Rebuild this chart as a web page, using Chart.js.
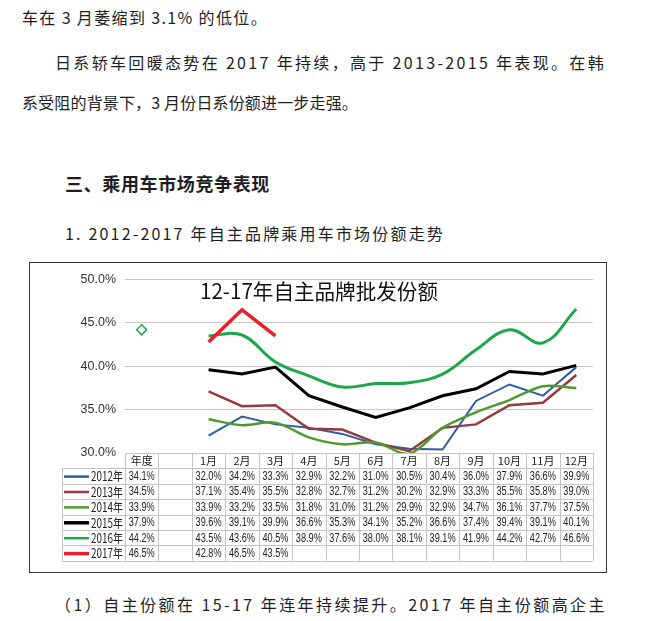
<!DOCTYPE html>
<html>
<head>
<meta charset="utf-8">
<script src="https://cdn.jsdelivr.net/npm/chart.js@4.4.0/dist/chart.umd.min.js"></script>
<style>
body { margin: 0; width: 648px; height: 621px; background: #fff; position: relative; overflow: hidden;
       font-family: "Noto Sans CJK SC", sans-serif; color: #1e1e1e; }
.ln { position: absolute; font-size: 16px; line-height: 20px; white-space: nowrap; }
.hd { font-size: 18px; font-weight: bold; line-height: 22px; }
#box { position: absolute; left: 29px; top: 262px; width: 576px; height: 309px; border: 1px solid #333; }
#wrap { position: absolute; left: 0; top: 0; width: 576px; height: 309px; }
</style>
</head>
<body>
<div class="ln" data-w="246" style="left:22px;top:7px">车在 3 月萎缩到 3.1% 的低位。</div>
<div class="ln" data-w="551" style="left:55px;top:52px">日系轿车回暖态势在 2017 年持续，高于 2013-2015 年表现。在韩</div>
<div class="ln" data-w="336" style="left:22px;top:92px">系受阻的背景下，3 月份日系份额进一步走强。</div>
<div class="ln hd" data-w="205" style="left:65px;top:172px">三、乘用车市场竞争表现</div>
<div class="ln" data-w="380" style="left:65px;top:223px">1. 2012-2017 年自主品牌乘用车市场份额走势</div>
<div class="ln" data-w="552" style="left:55px;top:594px">（1）自主份额在 15-17 年连年持续提升。2017 年自主份额高企主</div>

<div id="box"><div id="wrap"><canvas id="myChart"></canvas></div></div>

<script>
// chart data
const title = '12-17年自主品牌批发份额';
const columns = ['年度', '', '1月', '2月', '3月', '4月', '5月', '6月', '7月', '8月', '9月', '10月', '11月', '12月'];
const years = ['2012年', '2013年', '2014年', '2015年', '2016年', '2017年'];
const annual = [34.1, 34.5, 33.9, 37.9, 44.2, 46.5];
const s2012 = [32.0, 34.2, 33.3, 32.9, 32.2, 31.0, 30.5, 30.4, 36.0, 37.9, 36.6, 39.9];
const s2013 = [37.1, 35.4, 35.5, 32.8, 32.7, 31.2, 30.2, 32.9, 33.3, 35.5, 35.8, 39.0];
const s2014 = [33.9, 33.2, 33.5, 31.8, 31.0, 31.2, 29.9, 32.9, 34.7, 36.1, 37.7, 37.5];
const s2015 = [39.6, 39.1, 39.9, 36.6, 35.3, 34.1, 35.2, 36.6, 37.4, 39.4, 39.1, 40.1];
const s2016 = [43.5, 43.6, 40.5, 38.9, 37.6, 38.0, 38.1, 39.1, 41.9, 44.2, 42.7, 46.6];
const s2017 = [42.8, 46.5, 43.5];
const yTicks = [30, 35, 40, 45, 50];

const monthly = [s2012, s2013, s2014, s2015, s2016, s2017];
const colors = ['#2f5ca6', '#953a40', '#4f9a30', '#000000', '#1ea64a', '#e8202a'];
const widths = [2, 2.5, 2.5, 3, 3, 3.5];
const tensions = [0, 0, 0.3, 0, 0.4, 0];

// fit text lines to their width
document.querySelectorAll('.ln').forEach(el => {
    const w = +el.dataset.w;
    const nat = el.getBoundingClientRect().width;
    const n = [...el.textContent].length;
    el.style.letterSpacing = ((w - nat) / n) + 'px';
});

const datasets = years.map((y, i) => ({
    label: y,
    data: [annual[i], null].concat(monthly[i]),
    borderColor: colors[i],
    backgroundColor: '#ffffff',
    borderWidth: widths[i],
    tension: tensions[i],
    pointStyle: 'rectRot',
    pointRadius: ctx => (i === 4 && ctx.dataIndex === 0) ? 5 : 0,
    pointBorderWidth: 1.5,
    order: 6 - i
}));

const numFont = '12.5px "Liberation Sans", Arial, sans-serif';
const cjkFont = '11px "Noto Sans CJK SC", sans-serif';

// title + data table under the plot
const tablePlugin = {
    id: 'tablePlugin',
    afterDraw(chart) {
        const ctx = chart.ctx;
        const xs = chart.scales.x;
        const area = chart.chartArea;
        const colW = (area.right - area.left) / columns.length;
        const rowH = 15.4;
        const top = area.bottom;
        const legL = 32;

        ctx.save();
        ctx.fillStyle = '#111';
        ctx.font = '21px "Noto Sans CJK SC", sans-serif';
        ctx.textAlign = 'center';
        ctx.textBaseline = 'middle';
        ctx.fillText(title, 289, 28, 238);

        // grid
        ctx.strokeStyle = '#c4c4c4';
        ctx.lineWidth = 1;
        ctx.beginPath();
        for (let r = 0; r <= 7; r++) {
            const y = Math.round(top + r * rowH) + 0.5;
            ctx.moveTo(r === 0 ? area.left : legL, y);
            ctx.lineTo(area.right, y);
        }
        for (let c = 0; c <= columns.length; c++) {
            const x = Math.round(area.left + c * colW) + 0.5;
            ctx.moveTo(x, top);
            ctx.lineTo(x, top + 7 * rowH);
        }
        ctx.moveTo(legL + 0.5, top + rowH);
        ctx.lineTo(legL + 0.5, top + 7 * rowH);
        ctx.stroke();

        ctx.fillStyle = '#222';
        ctx.font = cjkFont;
        columns.forEach((c, i) => ctx.fillText(c, xs.getPixelForValue(i), top + rowH / 2 + 0.5, colW - 8));

        years.forEach((y, r) => {
            const cy = top + (r + 1.5) * rowH + 0.5;
            ctx.strokeStyle = colors[r];
            ctx.lineWidth = (r === 3 || r === 5) ? 3.5 : 2.5;
            ctx.beginPath();
            ctx.moveTo(legL + 2, cy);
            ctx.lineTo(legL + 27, cy);
            ctx.stroke();
            ctx.textAlign = 'left';
            ctx.font = '12.5px "Noto Sans CJK SC", sans-serif';
            ctx.fillText(y, legL + 29, cy, 32);
            ctx.textAlign = 'center';
            ctx.font = numFont;
            ctx.fillText(annual[r].toFixed(1) + '%', xs.getPixelForValue(0), cy, 26);
            monthly[r].forEach((v, m) => {
                ctx.fillText(v.toFixed(1) + '%', xs.getPixelForValue(m + 2), cy, 26);
            });
        });
        ctx.restore();
    }
};

const config = {
    type: 'line',
    data: { labels: columns, datasets: datasets },
    options: {
        responsive: true,
        maintainAspectRatio: false,
        animation: false,
        layout: { padding: { left: 0, right: 13, top: 10, bottom: 119 } },
        plugins: {
            legend: { display: false },
            tooltip: { enabled: false }
        },
        scales: {
            x: {
                type: 'category',
                offset: true,
                display: false
            },
            y: {
                min: 30,
                max: 50,
                afterFit: scale => { scale.width = 95; },
                afterBuildTicks: scale => { scale.ticks = yTicks.map(v => ({ value: v })); },
                border: { display: false },
                grid: { color: '#c8c8c8', drawTicks: false },
                ticks: {
                    padding: 9,
                    color: '#333',
                    font: { family: '"Liberation Sans", Arial, sans-serif', size: 12.5 },
                    callback: v => v.toFixed(1) + '%'
                }
            }
        }
    },
    plugins: [tablePlugin]
};

let myChart = new Chart(document.getElementById('myChart'), config);
</script>
</body>
</html>
